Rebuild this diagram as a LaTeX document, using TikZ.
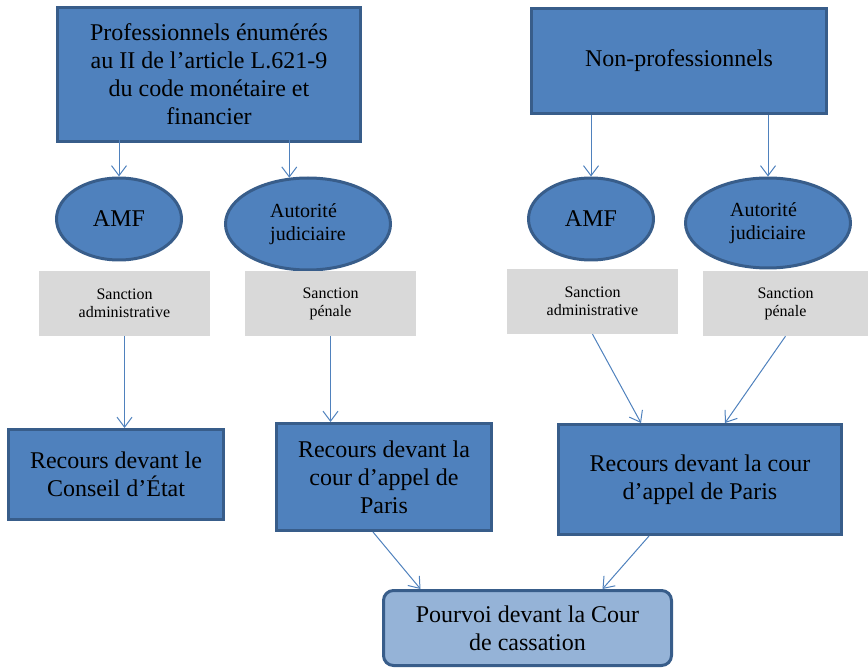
\documentclass[tikz,border=0pt]{standalone}
\usepackage{fontspec}
\setmainfont{Liberation Serif}
\usetikzlibrary{shapes.geometric,arrows.meta}
\definecolor{boxblue}{HTML}{4F81BD}
\definecolor{edgeblue}{HTML}{385D8A}
\definecolor{paleblue}{HTML}{95B3D7}
\definecolor{sanctiongray}{HTML}{D9D9D9}
\tikzset{
	bigbox/.style={draw=edgeblue, fill=boxblue, line width=3pt, align=center, inner sep=0pt, font=\fontsize{24}{28}\selectfont},
	oval/.style={ellipse, draw=edgeblue, fill=boxblue, line width=3pt, inner sep=0pt},
	graybox/.style={fill=sanctiongray, align=center, inner sep=0pt, minimum height=65pt, font=\fontsize{16}{18}\selectfont},
	link/.style={draw=boxblue, line width=1pt, -{Straight Barb[length=10pt,width=15pt]}}
}

\begin{document}
\begin{tikzpicture}[x=1pt, y=-1pt]
		%%%%% START %%%%%
		\useasboundingbox (0, 0) rectangle (868, 668);
		
		\node[bigbox, minimum width=303pt, minimum height=134pt] (pro) at (209, 74.5) {Professionnels énumérés\\au II de l’article L.621-9\\du code monétaire et\\financier};
		\node[bigbox, minimum width=295pt, minimum height=105pt] (nonpro) at (679, 61) {Non-professionnels};
		
		\node[oval, minimum width=125pt, minimum height=82pt, font=\fontsize{24}{28}\selectfont] (amfL) at (119, 219) {AMF};
		\node[oval, minimum width=165pt, minimum height=92pt, align=left, font=\fontsize{20}{23}\selectfont] (judL) at (308, 224) {Autorité\\judiciaire};
		\node[oval, minimum width=125pt, minimum height=82pt, font=\fontsize{24}{28}\selectfont] (amfR) at (591, 219) {AMF};
		\node[oval, minimum width=165pt, minimum height=90pt, align=left, font=\fontsize{20}{23}\selectfont] (judR) at (768, 223) {Autorité\\judiciaire};
		
		\node[graybox, minimum width=171pt] (sancAL) at (124.5, 303.5) {Sanction\\administrative};
		\node[graybox, minimum width=171pt] (sancPL) at (330.5, 303.5) {Sanction\\pénale};
		\node[graybox, minimum width=171pt] (sancAR) at (592.5, 301.5) {Sanction\\administrative};
		\node[graybox, minimum width=165pt] (sancPR) at (785.5, 303.5) {Sanction\\pénale};
		
		\node[bigbox, minimum width=215pt, minimum height=90pt] (conseil) at (116, 474.5) {Recours devant le\\Conseil d’État};
		\node[bigbox, minimum width=215pt, minimum height=107pt] (parisL) at (384, 477) {Recours devant la\\cour d’appel de\\Paris};
		\node[bigbox, minimum width=283pt, minimum height=110pt] (parisR) at (700, 479.5) {Recours devant la cour\\d’appel de Paris};
		
		\node[bigbox, fill=paleblue, rounded corners=10pt, minimum width=288pt, minimum height=75pt] (pourvoi) at (527.5, 628) {Pourvoi devant la Cour\\de cassation};
		
		\draw[link] (amfL.north |- nonpro.south) -- (amfL.north);
		\draw[link] (judL.112 |- nonpro.south) -- (judL.112);
		\draw[link] (amfR.north |- nonpro.south) -- (amfR.north);
		\draw[link] (judR.north |- nonpro.south) -- (judR.north);
		
		\draw[link] (sancAL.south) -- (sancAL.south |- conseil.north);
		\draw[link] (sancPL.south) -- (sancPL.south |- parisL.north);
		\draw[link] (sancAR.south) -- ([xshift=-59pt]parisR.north);
		\draw[link] (sancPR.south) -- ([xshift=25pt]parisR.north);
		
		\draw[link] ([xshift=-11pt]parisL.south) -- ([xshift=-107pt]pourvoi.north);
		\draw[link] ([xshift=-51pt]parisR.south) -- ([xshift=75pt]pourvoi.north);
		
		%%%%% END %%%%%
	\end{tikzpicture}
\end{document}
